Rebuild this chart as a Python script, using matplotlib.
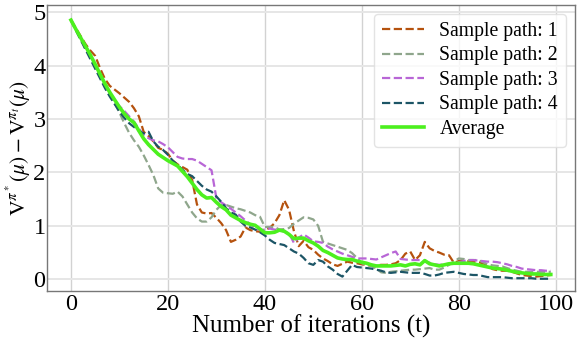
import matplotlib
matplotlib.use("Agg")
import matplotlib.pyplot as plt
import numpy as np

iterations = list(range(100))

path1 = [4.85, 4.70, 4.55, 4.40, 4.28, 4.18, 3.95, 3.75, 3.62, 3.55,
         3.48, 3.40, 3.32, 3.20, 3.05, 2.76, 2.68, 2.58, 2.46, 2.42,
         2.35, 2.22, 2.15, 2.10, 2.05, 1.86, 1.40, 1.25, 1.23, 1.24,
         1.15, 1.05, 0.92, 0.70, 0.74, 0.80, 0.97, 0.92, 0.90, 0.89,
         0.92, 0.96, 1.05, 1.20, 1.48, 1.30, 0.90, 0.62, 0.72, 0.60,
         0.55, 0.46, 0.39, 0.34, 0.28, 0.25, 0.29, 0.33, 0.31, 0.30,
         0.28, 0.27, 0.25, 0.26, 0.27, 0.27, 0.28, 0.30, 0.36, 0.48,
         0.52, 0.36, 0.45, 0.70, 0.58, 0.53, 0.50, 0.46, 0.45, 0.31,
         0.34, 0.36, 0.34, 0.33, 0.32, 0.30, 0.25, 0.19, 0.17, 0.16,
         0.16, 0.14, 0.11, 0.08, 0.07, 0.06, 0.05, 0.06, 0.07, 0.08]

path2 = [4.85, 4.68, 4.52, 4.36, 4.18, 4.00, 3.82, 3.64, 3.48, 3.30,
         3.12, 2.92, 2.74, 2.60, 2.48, 2.32, 2.14, 1.95, 1.70, 1.62,
         1.61, 1.60, 1.64, 1.55, 1.40, 1.25, 1.14, 1.08, 1.08, 1.16,
         1.30, 1.39, 1.39, 1.36, 1.33, 1.31, 1.28, 1.25, 1.20, 1.17,
         0.98, 0.98, 0.98, 0.93, 0.94, 0.96, 1.04, 1.10, 1.16, 1.15,
         1.12, 1.00, 0.70, 0.67, 0.64, 0.61, 0.58, 0.55, 0.49, 0.40,
         0.30, 0.27, 0.25, 0.20, 0.13, 0.12, 0.14, 0.15, 0.16, 0.17,
         0.18, 0.18, 0.19, 0.20, 0.21, 0.18, 0.18, 0.22, 0.27, 0.33,
         0.39, 0.38, 0.36, 0.36, 0.36, 0.32, 0.28, 0.26, 0.25, 0.24,
         0.21, 0.18, 0.16, 0.14, 0.14, 0.14, 0.14, 0.14, 0.14, 0.14]

path3 = [4.85, 4.68, 4.50, 4.32, 4.15, 3.98, 3.80, 3.62, 3.46, 3.36,
         3.24, 3.15, 3.05, 2.95, 2.82, 2.70, 2.64, 2.60, 2.58, 2.53,
         2.47, 2.38, 2.29, 2.26, 2.25, 2.25, 2.22, 2.16, 2.10, 2.04,
         1.52, 1.44, 1.38, 1.32, 1.25, 1.18, 1.10, 1.03, 0.96, 0.92,
         0.93, 0.95, 0.93, 0.92, 0.89, 0.86, 0.68, 0.78, 0.84, 0.78,
         0.71, 0.70, 0.68, 0.61, 0.56, 0.52, 0.48, 0.45, 0.42, 0.39,
         0.39, 0.39, 0.38, 0.37, 0.41, 0.45, 0.49, 0.52, 0.38, 0.37,
         0.36, 0.36, 0.36, 0.34, 0.31, 0.28, 0.27, 0.28, 0.29, 0.30,
         0.32, 0.34, 0.36, 0.36, 0.35, 0.34, 0.33, 0.33, 0.32, 0.30,
         0.28, 0.25, 0.23, 0.20, 0.19, 0.18, 0.17, 0.17, 0.16, 0.16]

path4 = [4.85, 4.66, 4.48, 4.30, 4.12, 3.94, 3.76, 3.58, 3.42, 3.28,
         3.14, 3.02, 2.92, 2.85, 2.78, 2.73, 2.76, 2.58, 2.48, 2.42,
         2.33, 2.22, 2.14, 2.05, 1.97, 1.93, 1.84, 1.75, 1.68, 1.64,
         1.55, 1.45, 1.33, 1.25, 1.21, 1.08, 1.00, 0.97, 0.93, 0.88,
         0.82, 0.74, 0.68, 0.66, 0.64, 0.58, 0.52, 0.48, 0.40, 0.30,
         0.27, 0.36, 0.33, 0.24, 0.18, 0.10, 0.05, 0.16, 0.27, 0.23,
         0.22, 0.21, 0.20, 0.18, 0.16, 0.13, 0.12, 0.13, 0.14, 0.13,
         0.12, 0.12, 0.12, 0.10, 0.07, 0.07, 0.09, 0.12, 0.13, 0.14,
         0.12, 0.10, 0.09, 0.08, 0.08, 0.06, 0.04, 0.04, 0.04, 0.04,
         0.03, 0.02, 0.02, 0.02, 0.02, 0.02, 0.01, 0.01, 0.01, 0.01]

average = [4.85, 4.68, 4.52, 4.36, 4.20, 4.02, 3.84, 3.66, 3.50, 3.36,
           3.22, 3.10, 3.00, 2.93, 2.78, 2.63, 2.52, 2.43, 2.34, 2.28,
           2.22, 2.17, 2.12, 2.02, 1.92, 1.80, 1.68, 1.58, 1.52, 1.53,
           1.44, 1.36, 1.30, 1.20, 1.15, 1.10, 1.06, 1.03, 1.01, 0.94,
           0.87, 0.87, 0.88, 0.92, 0.90, 0.84, 0.76, 0.77, 0.77, 0.72,
           0.68, 0.62, 0.54, 0.50, 0.45, 0.40, 0.38, 0.37, 0.37, 0.34,
           0.32, 0.30, 0.27, 0.25, 0.25, 0.25, 0.25, 0.26, 0.27, 0.25,
           0.28, 0.29, 0.27, 0.35, 0.29, 0.27, 0.25, 0.27, 0.29, 0.30,
           0.30, 0.30, 0.30, 0.29, 0.27, 0.25, 0.23, 0.21, 0.20, 0.19,
           0.17, 0.15, 0.13, 0.12, 0.11, 0.10, 0.10, 0.09, 0.09, 0.09]

labels = ["Sample path: 1", "Sample path: 2", "Sample path: 3", "Sample path: 4"]
colors = ["#b5520e", "#8fa68c", "#b866d6", "#1c5566"]

plt.rcParams['font.family'] = ['Liberation Serif', 'DejaVu Serif']
plt.rcParams['mathtext.fontset'] = 'stix'

fig = plt.figure(figsize=(5.8, 3.42), dpi=100)
ax = fig.add_axes([0.081, 0.149, 0.910, 0.836])

for series, lab, col in zip([path1, path2, path3, path4], labels, colors):
    ax.plot(iterations, series, linestyle='--', color=col, linewidth=1.6, label=lab)
ax.plot(iterations, average, color='#4cf01e', linewidth=2.6, label='Average')

ax.set_xlim(-4.95, 103.95)
ax.set_ylim(-0.22, 5.13)
ax.set_xticks([0, 20, 40, 60, 80, 100])
ax.set_yticks([0, 1, 2, 3, 4, 5])
ax.xaxis.grid(True, color='#d2d2d2', linewidth=1.0)
ax.yaxis.grid(True, color='#e6e6e6', linewidth=1.4)
ax.set_axisbelow(True)
for s in ax.spines.values():
    s.set_color('#777777')
    s.set_linewidth(1.0)
ax.tick_params(axis='x', length=0, labelsize=17.5, pad=2)
ax.tick_params(axis='y', length=0, labelsize=17.5, pad=1)
ax.set_xlabel('Number of iterations (t)', fontsize=18, labelpad=0)
ax.set_ylabel(r'$\mathrm{V}^{\pi^*}(\mu) - \mathrm{V}^{\pi_t}(\mu)$', fontsize=15.5, labelpad=0)

leg = ax.legend(loc='upper right', fontsize=14.2, frameon=True, fancybox=True,
                framealpha=0.8, edgecolor='#dddddd', handlelength=2.1,
                borderaxespad=0.45, labelspacing=0.28, handletextpad=0.8)

fig.savefig('out.png', dpi=100)
